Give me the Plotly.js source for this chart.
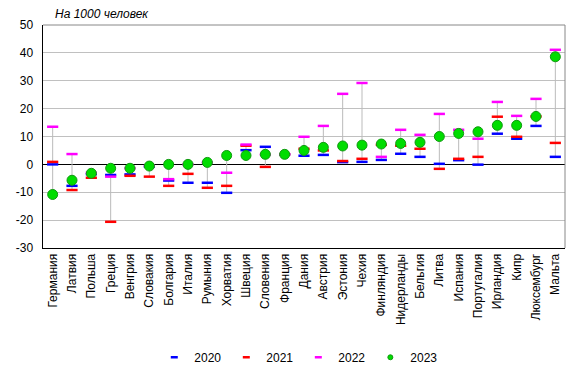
<!DOCTYPE html>
<html><head><meta charset="utf-8">
<script src="https://cdn.plot.ly/plotly-3.0.1.min.js"></script>
<style>body{margin:0;background:#fff}#c{width:580px;height:375px}</style>
</head><body><div id="c"></div>
<script>
const countries = ["Германия","Латвия","Польша","Греция","Венгрия","Словакия","Болгария","Италия","Румыния","Хорватия","Швеция","Словения","Франция","Дания","Австрия","Эстония","Чехия","Финляндия","Нидерланды","Бельгия","Литва","Испания","Португалия","Ирландия","Кипр","Люксембург","Мальта"];
const v2020 = [0, -7.7, -3.5, -3.8, -3.6, -0.8, -5.8, -6.6, -6.6, -10.2, 5.1, 6.3, 3.6, 3.1, 3.4, 0.8, 0.9, 1.6, 3.8, 2.7, 0.2, 1.5, -0.1, 11.0, 9.2, 13.8, 2.7];
const v2021 = [0.9, -9.2, -4.8, -20.6, -4.1, -4.4, -7.7, -3.4, -8.4, -7.7, 6.7, -0.9, 3.6, 5.6, 5.0, 1.2, 2.0, 7.0, 6.7, 5.6, -1.6, 2.0, 2.7, 17.1, 9.9, 17.2, 7.7];
const v2022 = [13.5, 3.7, -3.0, -4.4, -1.4, -0.5, -5.3, 0, 0.7, -3.0, 7.1, 3.5, 3.6, 9.9, 13.8, 25.3, 29.2, 2.7, 12.4, 10.6, 18.1, 12.4, 9.2, 22.4, 17.4, 23.5, 41.1];
const v2023 = [-10.8, -5.7, -3.2, -1.4, -1.4, -0.6, 0, 0, 0.7, 3.2, 3.2, 3.6, 3.6, 5.0, 6.1, 6.6, 6.9, 7.3, 7.5, 7.9, 10.0, 11.1, 11.7, 14.0, 14.0, 17.2, 38.6];
const yTicks = [-30, -20, -10, 0, 10, 20, 30, 40, 50];
const seriesNames = ['2020', '2021', '2022', '2023'];
const seriesColors = ['#0000ff', '#ff0000', '#ff00ff', '#00dd00'];

const lx = [], ly = [];
countries.forEach((c, i) => {
  const vals = [v2020[i], v2021[i], v2022[i], v2023[i]];
  lx.push(c, c, null);
  ly.push(Math.min(...vals), Math.max(...vals), null);
});

const dash = (y, k) => ({
  type: 'scatter', mode: 'markers', x: countries, y: y, name: seriesNames[k], showlegend: false,
  marker: {symbol: 'line-ew', size: 8, line: {color: seriesColors[k], width: 2.5}, color: seriesColors[k]},
  hoverinfo: 'skip'
});
const legendDash = k => ({
  type: 'scatter', mode: 'markers', x: [null], y: [null], name: seriesNames[k],
  marker: {symbol: 'line-ew', size: 5, line: {color: seriesColors[k], width: 2.5}, color: seriesColors[k]}
});

const traces = [
  {type: 'scatter', mode: 'lines', x: lx, y: ly, line: {color: '#bbbbbb', width: 1}, showlegend: false, hoverinfo: 'skip'},
  dash(v2020, 0),
  dash(v2021, 1),
  dash(v2022, 2),
  {type: 'scatter', mode: 'markers', x: countries, y: v2023, name: '2023', showlegend: false,
   marker: {symbol: 'circle', size: 10, color: seriesColors[3], line: {color: '#119911', width: 1}}, hoverinfo: 'skip'},
  legendDash(0), legendDash(1), legendDash(2),
  {type: 'scatter', mode: 'markers', x: [null], y: [null], name: '2023',
   marker: {symbol: 'circle', size: 5, color: seriesColors[3], line: {color: '#119911', width: 1}}}
];

const layout = {
  width: 580, height: 375,
  margin: {l: 43, r: 15, t: 25, b: 127, autoexpand: false},
  paper_bgcolor: '#fff', plot_bgcolor: '#fff',
  font: {family: 'Liberation Sans, Arial, sans-serif', size: 12, color: '#000'},
  title: {text: 'На 1000 человек', x: 55/580, xanchor: 'left', y: 1 - 14/375, yanchor: 'middle',
          font: {size: 12, style: 'italic', color: '#000'}},
  showlegend: true,
  legend: {orientation: 'h', x: 0.49, xanchor: 'center', y: -0.49, yanchor: 'middle',
           font: {size: 12}, itemwidth: 30, tracegroupgap: 0},
  xaxis: {type: 'category', range: [-0.5, countries.length - 0.5], tickangle: -90,
          showgrid: false, showline: true, linecolor: '#000', linewidth: 1, ticks: '',
          zeroline: false, automargin: false, tickfont: {size: 12}},
  yaxis: {range: [-30, 50], tickvals: yTicks, ticktext: yTicks.map(String),
          showgrid: true, gridcolor: '#c0c0c0', gridwidth: 1,
          zeroline: true, zerolinecolor: '#000', zerolinewidth: 1.5,
          showline: true, linecolor: '#000', linewidth: 1.5, ticks: '',
          ticklabelstandoff: 6, automargin: false, tickfont: {size: 12}},
  shapes: [
    {type: 'line', xref: 'paper', yref: 'paper', x0: 0, x1: 1, y0: 1, y1: 1, line: {color: '#888', width: 1}},
    {type: 'line', xref: 'paper', yref: 'paper', x0: 1, x1: 1, y0: 0, y1: 1, line: {color: '#888', width: 1}}
  ]
};
Plotly.newPlot('c', traces, layout, {staticPlot: true});
</script></body></html>
